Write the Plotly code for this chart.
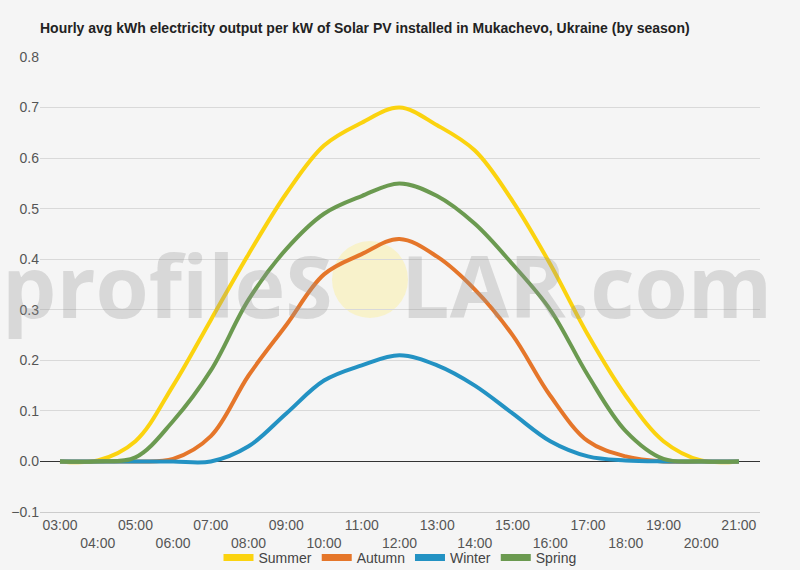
import plotly.graph_objects as go

hours = ["03:00","04:00","05:00","06:00","07:00","08:00","09:00","10:00","11:00","12:00",
         "13:00","14:00","15:00","16:00","17:00","18:00","19:00","20:00","21:00"]
summer = [0, 0.002, 0.04, 0.15, 0.28, 0.41, 0.53, 0.625, 0.67, 0.70, 0.665, 0.615, 0.515, 0.39, 0.25, 0.13, 0.04, 0.002, 0]
autumn = [0, 0, 0, 0.005, 0.05, 0.17, 0.27, 0.37, 0.41, 0.44, 0.405, 0.34, 0.25, 0.13, 0.04, 0.01, 0, 0, 0]
winter = [0, 0, 0, 0, 0, 0.03, 0.095, 0.16, 0.19, 0.21, 0.19, 0.15, 0.095, 0.04, 0.01, 0.002, 0, 0, 0]
spring = [0, 0, 0.008, 0.08, 0.18, 0.32, 0.42, 0.49, 0.525, 0.55, 0.525, 0.47, 0.39, 0.30, 0.17, 0.06, 0.005, 0, 0]

series = [("Summer", summer, "#fbd30f"), ("Autumn", autumn, "#e5762a"),
          ("Winter", winter, "#2392c3"), ("Spring", spring, "#6b9a50")]

tick_text = [h if i % 2 == 0 else "<br>" + h for i, h in enumerate(hours)]

fig = go.Figure()
for name, vals, col in series:
    fig.add_trace(go.Scatter(x=hours, y=vals, name=name, mode="lines", showlegend=False,
                             line=dict(color=col, width=4, shape="spline", smoothing=1.0)))
for name, vals, col in series:
    fig.add_trace(go.Scatter(x=[None], y=[None], name=name, mode="lines", showlegend=True,
                             line=dict(color=col, width=7)))

fig.add_shape(type="circle", xref="paper", yref="paper",
              x0=(332-40)/720, x1=(408-40)/720, y0=(512-318)/455, y1=(512-241)/455,
              fillcolor="rgba(250,240,175,0.6)", line=dict(width=0), layer="below")
fig.add_annotation(text="<b>profileS<span style='color:rgba(0,0,0,0)'>O</span>LAR.com</b>",
                   xref="paper", yref="paper", x=(387-40)/720, y=(512-284)/455,
                   xanchor="center", yanchor="middle", showarrow=False,
                   font=dict(family="Open Sans", size=86, color="rgba(150,150,150,0.3)"))

fig.update_layout(
    width=800, height=570,
    margin=dict(l=40, r=40, t=57, b=58, autoexpand=False),
    paper_bgcolor="#f5f5f5", plot_bgcolor="#f5f5f5",
    font=dict(family="Liberation Sans, Arial", size=14, color="#555"),
    title=dict(text="<b>Hourly avg kWh electricity output per kW of Solar PV installed in Mukachevo, Ukraine (by season)</b>",
               x=40/800, xanchor="left", y=1-28/570, yanchor="middle",
               font=dict(size=14, color="#222")),
    xaxis=dict(type="category", range=[-0.53, 18.56], tickvals=hours, ticktext=tick_text,
               showgrid=False, zeroline=False, showline=True, linecolor="#ccc", ticks="",
               automargin=False, tickfont=dict(size=14, color="#555")),
    yaxis=dict(range=[-0.1, 0.8], dtick=0.1, tickformat=".1f", gridcolor="#d9d9d9",
               zeroline=True, zerolinecolor="#333", zerolinewidth=1, automargin=False,
               showline=False, ticks="", tickfont=dict(size=14, color="#555")),
    legend=dict(orientation="h", x=0.5, xanchor="center", xref="container",
                y=1-558/570, yanchor="middle", yref="container",
                font=dict(size=14, color="#444"), bgcolor="rgba(0,0,0,0)", itemwidth=30),
    showlegend=True,
)

fig.write_html("out.html")
